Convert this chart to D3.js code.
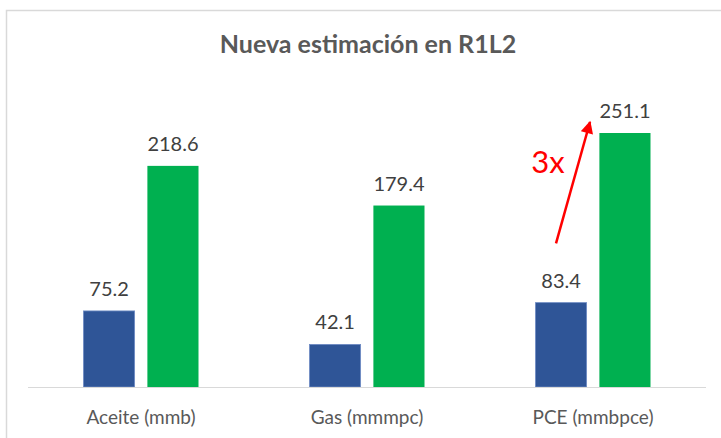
<!DOCTYPE html>
<html>
<head>
<meta charset="utf-8">
<script src="https://cdn.jsdelivr.net/npm/d3@7"></script>
<style>
  body { margin: 0; background: #fff; }
  text { font-family: Lato, "Open Sans", sans-serif; }
</style>
</head>
<body>
<svg id="chart" width="721" height="438"></svg>
<script>
// data
let categories = ["Aceite (mmb)", "Gas (mmmpc)", "PCE (mmbpce)"];
let series = ["antes", "nueva"];
let antes = [75.2, 42.1, 83.4];
let nueva = [218.6, 179.4, 251.1];
let colours = ["#2F5597", "#00B050"];

let width = 721;
let height = 438;
let svg = d3.select("#chart");

// frame of the chart area
svg.append("rect")
  .attr("x", 6.5)
  .attr("y", 10.5)
  .attr("width", width + 20)
  .attr("height", height + 20)
  .attr("fill", "none")
  .attr("stroke", "#D9D9D9")
  .attr("stroke-width", 1.5);

let x = d3.scaleBand()
  .domain(categories)
  .range([28, 706]);

let xInner = d3.scaleBand()
  .domain(series)
  .range([-57.5, 57.5])
  .paddingInner(0.2);

let y = d3.scaleLinear()
  .domain([0, 251.1])
  .range([387, 133]);

let rows = categories.map(function(c, i) {
  return { cat: c, values: [antes[i], nueva[i]] };
});

// title
svg.append("text")
  .attr("x", 368)
  .attr("y", 53)
  .attr("text-anchor", "middle")
  .style("font-size", "25px")
  .style("font-weight", "bold")
  .style("fill", "#595959")
  .text("Nueva estimación en R1L2");

// bars
let groups = svg.selectAll(".group")
    .data(rows)
  .enter().append("g")
    .classed("group", true)
    .attr("transform", function(d) {
      return "translate(" + (x(d.cat) + x.bandwidth() / 2) + ",0)";
    });

groups.selectAll("rect")
    .data(function(d) { return d.values.map(function(v, i) { return { s: series[i], v: v, i: i }; }); })
  .enter().append("rect")
    .attr("x", function(d) { return xInner(d.s); })
    .attr("width", xInner.bandwidth())
    .attr("y", function(d) { return y(d.v); })
    .attr("height", function(d) { return y(0) - y(d.v); })
    .style("fill", function(d) { return colours[d.i]; })
    .style("stroke", function(d) { return d.i == 0 ? "#6E8BC4" : "none"; })
    .style("stroke-width", 0.8);

groups.selectAll(".value")
    .data(function(d) { return d.values.map(function(v, i) { return { s: series[i], v: v }; }); })
  .enter().append("text")
    .classed("value", true)
    .attr("x", function(d) { return xInner(d.s) + xInner.bandwidth() / 2; })
    .attr("y", function(d) { return y(d.v) - 15; })
    .attr("text-anchor", "middle")
    .style("font-size", "20px")
    .style("fill", "#404040")
    .text(function(d) { return d3.format(".1f")(d.v); });

// baseline
svg.append("line")
  .attr("x1", x.range()[0])
  .attr("x2", x.range()[1])
  .attr("y1", y(0) + 0.5)
  .attr("y2", y(0) + 0.5)
  .style("stroke", "#D9D9D9")
  .style("stroke-width", 1.2);

// category labels
svg.selectAll(".catLabel")
    .data(categories)
  .enter().append("text")
    .classed("catLabel", true)
    .attr("x", function(d) { return x(d) + x.bandwidth() / 2; })
    .attr("y", 424)
    .attr("text-anchor", "middle")
    .style("font-size", "19px")
    .style("fill", "#595959")
    .text(function(d) { return d; });

// 3x annotation on PCE
let pce = x("PCE (mmbpce)") + x.bandwidth() / 2;

svg.append("defs").append("marker")
    .attr("id", "head")
    .attr("viewBox", "0 0 10 10")
    .attr("refX", 9)
    .attr("refY", 5)
    .attr("markerWidth", 5.5)
    .attr("markerHeight", 5)
    .attr("orient", "auto")
  .append("path")
    .attr("d", "M0,0 L10,5 L0,10 z")
    .style("fill", "#FF0000");

svg.append("line")
  .attr("x1", pce - 37)
  .attr("y1", y(142))
  .attr("x2", pce - 3)
  .attr("y2", y(262))
  .style("stroke", "#FF0000")
  .style("stroke-width", 2.5)
  .attr("marker-end", "url(#head)");

svg.append("text")
  .attr("x", pce - 45)
  .attr("y", 173)
  .attr("text-anchor", "middle")
  .style("font-size", "31px")
  .style("fill", "#FF0000")
  .text("3x");
</script>
</body>
</html>
